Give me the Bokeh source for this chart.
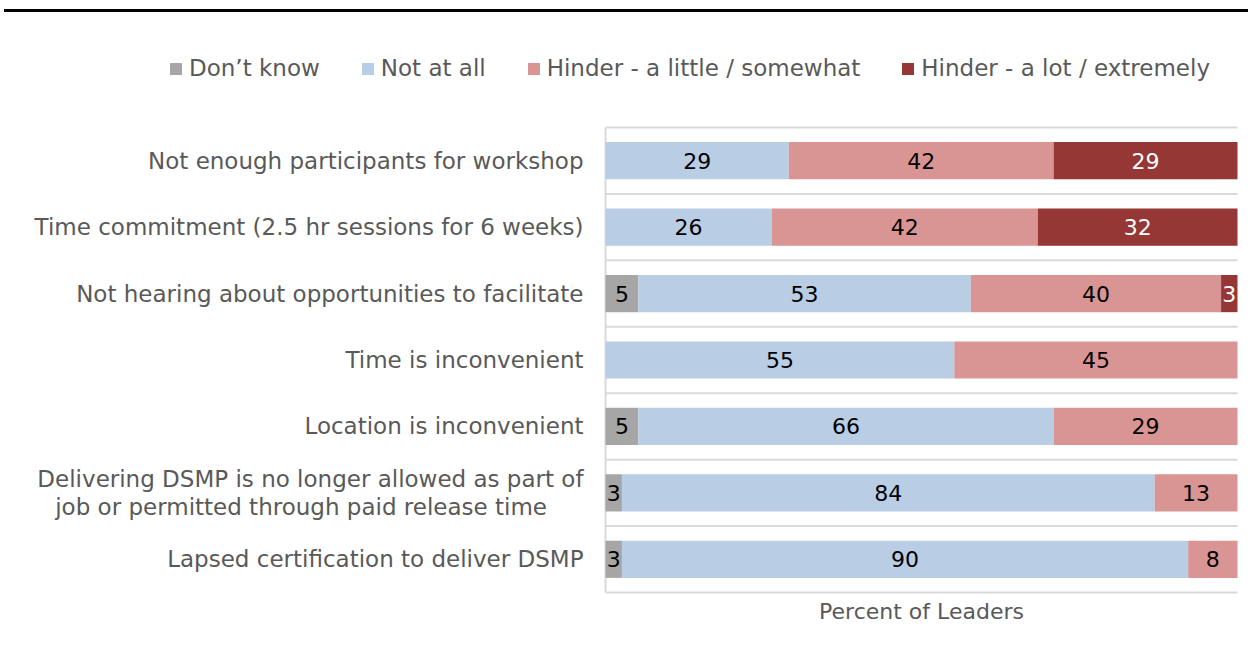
from bokeh.plotting import figure
from bokeh.models import (ColumnDataSource, Range1d, Legend, LegendItem, Div)
from bokeh.layouts import column
from bokeh.core.properties import value
from bokeh.embed import file_html
from bokeh.resources import INLINE

categories = [
    "Not enough participants for workshop",
    "Time commitment (2.5 hr sessions for 6 weeks)",
    "Not hearing about opportunities to facilitate",
    "Time is inconvenient",
    "Location is inconvenient",
    "Delivering DSMP is no longer allowed as part of\njob or permitted through paid release time" + "\u00a0" * 5,
    "Lapsed certification to deliver DSMP",
]
dont_know = [0, 0, 5.2, 0, 5.2, 2.6, 2.6]
not_at_all = [29.0, 26.3, 52.6, 55.2, 65.7, 84.3, 89.6]
hinder_little = [41.9, 42.1, 39.6, 44.8, 29.1, 13.1, 7.8]
hinder_lot = [29.1, 31.6, 2.6, 0, 0, 0, 0]
x_title = "Percent of Leaders"

series_names = ["Don\u2019t know", "Not at all", "Hinder - a little / somewhat", "Hinder - a lot / extremely"]
series_keys = ["dk", "na", "hl", "hx"]
colors = ["#a6a6a6", "#b9cde5", "#d99594", "#953735"]
label_colors = ["#000000", "#000000", "#000000", "#ffffff"]

FONT = "DejaVu Sans"
n = len(categories)
ypos = [i + 0.5 for i in range(n)]

# figure geometry (pixels): the plotting frame covers the whole figure,
# the bar area sits at the right.
W, H = 1248, 655
AREA_L, AREA_R = 605, 1237      # bar area left/right in pixels
AREA_T, AREA_B = 115, 580       # bar area top/bottom in pixels (within figure)
xs = (AREA_R - AREA_L) / 100.0
ys = (AREA_B - AREA_T) / n
x_range = Range1d(-AREA_L / xs, 100 + (W - AREA_R) / xs)
y_range = Range1d(n + (H - AREA_B) / ys, -AREA_T / ys)

src = ColumnDataSource(dict(y=ypos, dk=dont_know, na=not_at_all, hl=hinder_little, hx=hinder_lot))

p = figure(width=W, height=H, x_range=x_range, y_range=y_range,
           output_backend="svg", toolbar_location=None, x_axis_type=None, y_axis_type=None,
           min_border=0, min_border_left=0, min_border_right=0, min_border_top=0, min_border_bottom=0)
p.outline_line_color = None
p.xgrid.visible = False
p.ygrid.visible = False
p.background_fill_color = "white"

# separators at category boundaries and the value axis line
bounds = list(range(n + 1))
p.segment(x0=[0] * len(bounds), x1=[100] * len(bounds), y0=bounds, y1=bounds,
          line_color="#d9d9d9", line_width=2)
p.segment(x0=[0], x1=[0], y0=[0], y1=[n], line_color="#d9d9d9", line_width=2)

renderers = p.hbar_stack(series_keys, y="y", height=0.56, color=colors, line_color=None, source=src)

# data labels
lx, ly, lt, lc = [], [], [], []
all_series = [dont_know, not_at_all, hinder_little, hinder_lot]
for i in range(n):
    left = 0.0
    for s, vals in enumerate(all_series):
        v = vals[i]
        if v > 0:
            lx.append(left + v / 2)
            ly.append(ypos[i])
            lt.append(f"{v:.0f}")
            lc.append(label_colors[s])
        left += v
lsrc = ColumnDataSource(dict(x=lx, y=ly, t=lt, c=lc))
p.text(x="x", y="y", text="t", text_color="c", source=lsrc, text_align="center",
       text_baseline="middle", text_font=value(FONT), text_font_size="22px")

# category labels
p.text(x=[0] * n, y=ypos, text=categories, x_offset=-22, text_align="right",
       text_baseline="middle", text_font=value(FONT), text_font_size="23px",
       text_color="#595959", text_line_height=1.1)

# value axis title
p.text(x=[50], y=[n], y_offset=19, text=[x_title], text_align="center",
       text_baseline="middle", text_font=value(FONT), text_font_size="22px",
       text_color="#595959")

legend = Legend(items=[LegendItem(label=nm, renderers=[r]) for nm, r in zip(series_names, renderers)],
                orientation="horizontal", location=(168, H - 69), padding=0, margin=0, spacing=40,
                label_standoff=6, glyph_width=15, glyph_height=15, label_height=24,
                label_text_font=FONT, label_text_font_size="23px", label_text_color="#595959",
                border_line_color=None, background_fill_alpha=0)
p.add_layout(legend, "center")

topline = Div(text="", width=1244, height=3, margin=(9, 0, 0, 4),
              styles={"background-color": "#000000"})

layout = column(topline, p, spacing=0)

open("out.html", "w").write(file_html(layout, INLINE))
